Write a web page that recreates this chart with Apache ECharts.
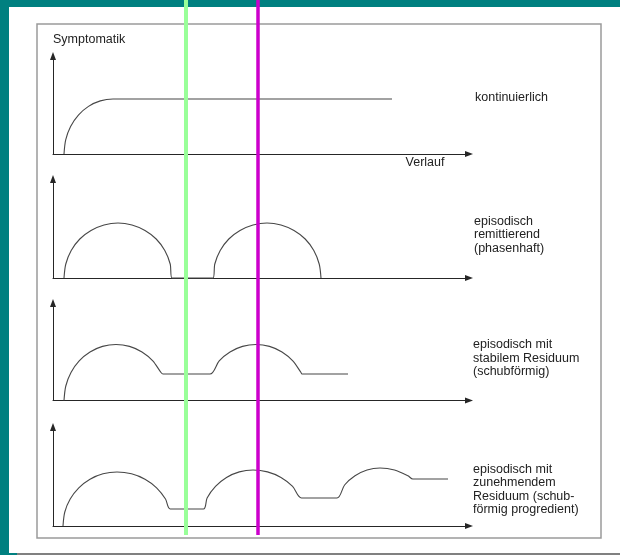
<!DOCTYPE html>
<html>
<head>
<meta charset="utf-8">
<script src="https://cdn.jsdelivr.net/npm/echarts@6/dist/echarts.min.js"></script>
<style>html,body{margin:0;padding:0;background:#008080;}#c{width:620px;height:555px;}</style>
</head>
<body>
<div id="c"></div>
<script>
// Curves: [x, y] in axis units (x along "Verlauf", y = Symptomatik above baseline)
const kontinuierlich = [[11,0],[12.7,14.2],[17.6,27.5],[25.4,38.9],[35.5,47.6],[47.3,53.1],[60,55],[339,55]];
const phasenhaft = [[11,0],[12.8,14],[18.2,27.5],[26.8,39],[38,47.5],[51,53],[65,55],[79,53],[92,47.5],[103.2,39],[111.8,27.5],[117.2,14],[119,0],
  [160,0],[161.8,14],[167.2,27.5],[175.8,39],[187,47.5],[200,53],[214,55],[228,53],[241,47.5],[252.2,39],[260.8,27.5],[266.2,14],[268,0]];
const stabilesResiduum = [[11,0],[12.8,14.5],[18,28],[26.2,39.6],[37,48.5],[49.5,54.1],[63,56],[76.5,54.1],[89,48.5],[99.8,39.6],[108,28],[110,26.5],
  [157,26.5],[166.2,39.6],[177,48.5],[189.5,54.1],[203,56],[216.5,54.1],[229,48.5],[239.8,39.6],[248,28],[249,26.5],[295,26.5]];
const zunehmendesResiduum = [[10,0],[11.8,14],[17.2,27],[25.8,38.2],[37,46.8],[50,52.2],[64,54],[78.5,52.2],[92,46.8],[103.6,38.2],[112.5,27],[117.2,17],
  [150.5,17],[154.1,28],[162.5,39.6],[173.5,48.5],[186.3,54.1],[200,56],[214.5,54.1],[228,48.5],[239.6,39.6],[248.5,28],
  [284,28],[291.6,41],[302,50.2],[314,56],[327,58],[341.5,56],[355,50.2],[359.8,47],[395,47]];
const markerPositions = [133, 205];
const panelLabels = [
  'kontinuierlich',
  'episodisch\nremittierend\n(phasenhaft)',
  'episodisch mit\nstabilem Residuum\n(schubförmig)',
  'episodisch mit\nzunehmendem\nResiduum (schub-\nförmig progredient)'
];
const yAxisTitle = 'Symptomatik';
const xAxisTitle = 'Verlauf';

const curves = [kontinuierlich, phasenhaft, stabilesResiduum, zunehmendesResiduum];
const panelTops = [56, 179, 303, 427];
const panelHeights = [98, 99, 97.5, 99];
const labelPos = [[475, 98], [474, 221.5], [473, 345], [473, 469.5]];
const FONT = '"Liberation Sans", Arial, sans-serif';
const axisCol = '#262626';

const grid = [], xAxis = [], yAxis = [], series = [];
curves.forEach((c, i) => {
  grid.push({left: 53, width: 416, top: panelTops[i], height: panelHeights[i]});
  xAxis.push({type: 'value', gridIndex: i, min: 0, max: 416,
    axisLine: {show: true, symbol: ['none', 'triangle'], symbolSize: [6, 8], lineStyle: {color: axisCol, width: 1}},
    axisTick: {show: false}, axisLabel: {show: false}, splitLine: {show: false}});
  yAxis.push({type: 'value', gridIndex: i, min: 0, max: panelHeights[i],
    axisLine: {show: true, symbol: ['none', 'triangle'], symbolSize: [6, 8], lineStyle: {color: axisCol, width: 1}},
    axisTick: {show: false}, axisLabel: {show: false}, splitLine: {show: false}});
  series.push({type: 'line', xAxisIndex: i, yAxisIndex: i, data: c, symbol: 'none', smooth: 0.3,
    clip: false, lineStyle: {color: '#474747', width: 1.1}, silent: true});
});
// overlay grid for the two vertical marker lines
grid.push({left: 53, width: 416, top: 0, height: 535});
xAxis.push({type: 'value', gridIndex: 4, min: 0, max: 416, show: false});
yAxis.push({type: 'value', gridIndex: 4, min: 0, max: 1, show: false});
series.push({type: 'line', xAxisIndex: 4, yAxisIndex: 4, data: [], z: 10,
  markLine: {silent: true, symbol: ['none', 'none'], label: {show: false},
    data: [
      {xAxis: markerPositions[0], lineStyle: {color: '#99ff99', width: 4, type: 'solid'}},
      {xAxis: markerPositions[1], lineStyle: {color: '#cc00cc', width: 3.5, type: 'solid'}}
    ]}});

const graphic = [
  {type: 'rect', z: -100, shape: {x: 9, y: 7, width: 611, height: 546}, style: {fill: '#ffffff'}},
  {type: 'line', z: -90, shape: {x1: 17, y1: 554, x2: 620, y2: 554}, style: {stroke: '#808080', lineWidth: 2}},
  {type: 'rect', z: -80, shape: {x: 37, y: 24, width: 564, height: 514}, style: {fill: 'none', stroke: '#9a9a9a', lineWidth: 1.5}},
  {type: 'text', x: 53, y: 40, style: {text: yAxisTitle, font: '12.5px ' + FONT, fill: '#222', verticalAlign: 'middle'}},
  {type: 'text', x: 425, y: 163, style: {text: xAxisTitle, font: '12.5px ' + FONT, fill: '#222', align: 'center', verticalAlign: 'middle'}}
];
panelLabels.forEach((t, i) => {
  graphic.push({type: 'text', x: labelPos[i][0], y: labelPos[i][1] - 6.75,
    style: {text: t, font: '12.5px ' + FONT, fill: '#222', lineHeight: 13.5, verticalAlign: 'top'}});
});

const chart = echarts.init(document.getElementById('c'), null, {renderer: 'canvas'});
chart.setOption({
  animation: false,
  backgroundColor: '#008080',
  grid, xAxis, yAxis, series, graphic
});
</script>
</body>
</html>
